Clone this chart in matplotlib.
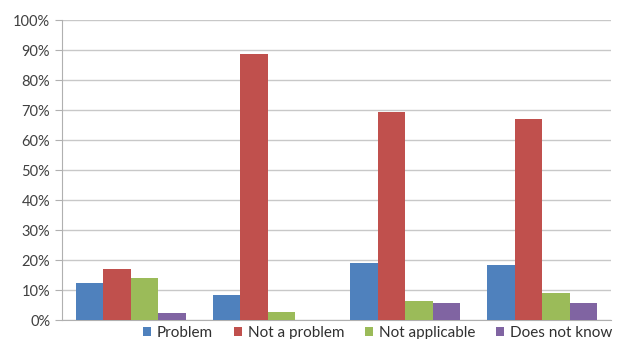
import numpy as np
import matplotlib
matplotlib.use("Agg")
import matplotlib.pyplot as plt
from matplotlib.ticker import PercentFormatter

plt.rcParams['font.family'] = ['Lato', 'DejaVu Sans']

groups = ['1', '2', '3', '4']
series = ['Problem', 'Not a problem', 'Not applicable', 'Does not know']
problem = [12.2, 8.3, 19.1, 18.4]
not_a_problem = [16.9, 88.7, 69.2, 67.0]
not_applicable = [13.9, 2.8, 6.2, 9.1]
does_not_know = [2.2, 0.0, 5.7, 5.7]
colors = ['#4F81BD', '#C0504D', '#9BBB59', '#8064A2']

values = [problem, not_a_problem, not_applicable, does_not_know]

fig = plt.figure(figsize=(6.19, 3.39), dpi=100)
ax = fig.add_axes([62 / 619, 19 / 339, 549 / 619, 300 / 339])

x = np.arange(len(groups))
w = 0.2
for i, (vals, name) in enumerate(zip(values, series)):
    ax.bar(x + (i - 1.5) * w, vals, w, color=colors[i], label=name, zorder=3)

ax.set_xlim(-0.5, 3.5)
ax.set_ylim(0, 100)
ax.set_yticks(np.arange(0, 101, 10))
ax.yaxis.set_major_formatter(PercentFormatter(decimals=0))
ax.set_xticks([])
ax.grid(axis='y', color='#c8c8c8', linewidth=1.0, zorder=0)
for s in ['top', 'right']:
    ax.spines[s].set_visible(False)
for s in ['left', 'bottom']:
    ax.spines[s].set_color('#b0b0b0')
ax.tick_params(axis='y', colors='#b0b0b0', length=5, labelcolor='#404040',
               labelsize=10.5)

# legend sits right under the plot, pushed toward the right edge
fig.legend(loc='center left', bbox_to_anchor=(143 / 619, 6 / 339), ncol=4,
           frameon=False, fontsize=11, handlelength=0.52, handleheight=0.52,
           handletextpad=0.4, columnspacing=1.35, borderaxespad=0,
           borderpad=0, labelcolor='#303030')

fig.savefig('out.png', dpi=100)
